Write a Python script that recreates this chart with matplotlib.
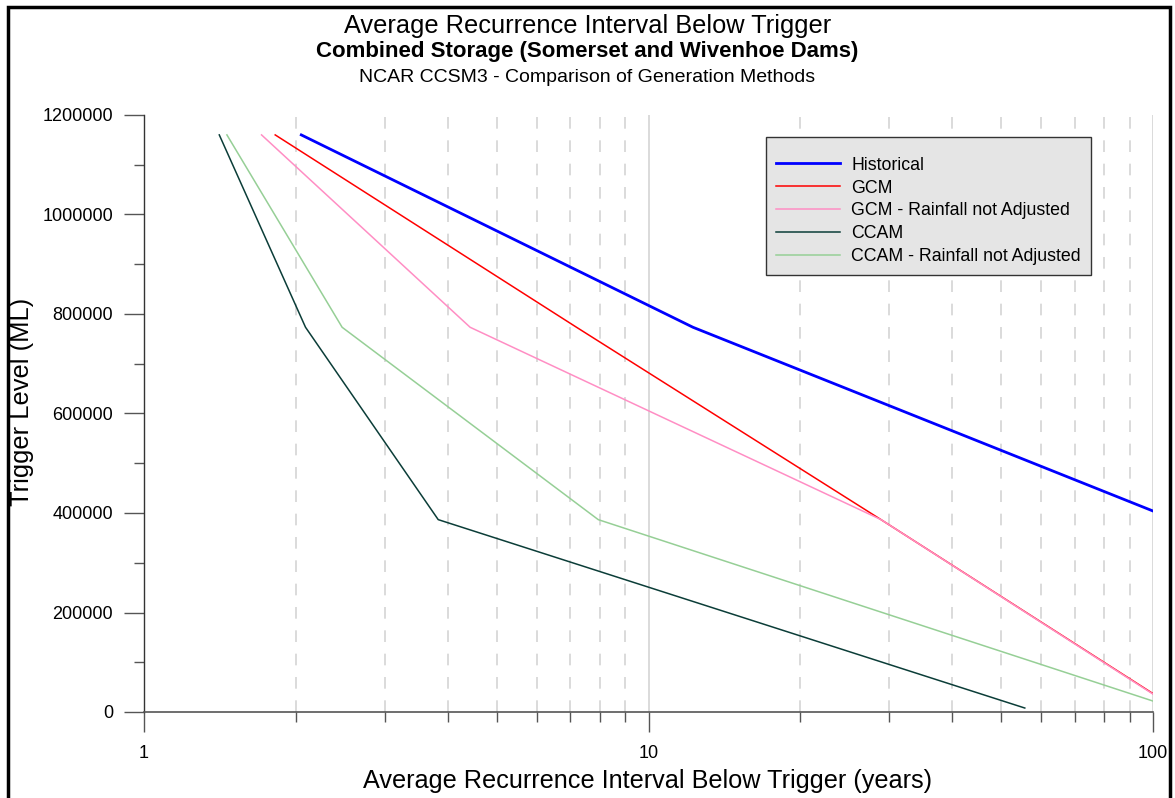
import matplotlib
matplotlib.use('Agg')
import matplotlib.pyplot as plt
import matplotlib.patches as patches
import matplotlib.ticker as ticker
import numpy as np

plt.rcParams['font.family'] = ['Liberation Sans', 'DejaVu Sans']

# trigger levels (ML)
levels = [1160000, 773333, 386667]

# average recurrence interval (years) per series
hist_x = [2.05, 12.25, 100]
hist_y = [1160000, 773333, 404000]

gcm_x = [1.82, 7.2, 28.9, 100]
gcm_y = [1160000, 773333, 386667, 37000]

gcm_raw_x = [1.71, 4.43, 28.9, 100]
gcm_raw_y = [1160000, 773333, 386667, 36000]

ccam_x = [1.41, 2.09, 3.83, 55.7]
ccam_y = [1160000, 773333, 386667, 8000]

ccam_raw_x = [1.46, 2.47, 7.95, 100]
ccam_raw_y = [1160000, 773333, 386667, 22000]

fig = plt.figure(figsize=(11.75, 7.98), dpi=100)
ax = fig.add_axes([144/1175, 1-712/798, (1153-144)/1175, (712-115)/798])

ax.set_xscale('log')
ax.set_xlim(1, 100)
ax.set_ylim(0, 1200000)

# vertical grid
for v in [2, 3, 4, 5, 6, 7, 8, 9, 20, 30, 40, 50, 60, 70, 80, 90]:
    ax.axvline(v, color='#d4d4d4', lw=1.2, ls=(0, (7, 7)), zorder=0)
for v in [10, 100]:
    ax.axvline(v, color='#d4d4d4', lw=1.2, zorder=0)

ax.plot(hist_x, hist_y, color='#0000ff', lw=2.0, label='Historical', zorder=5)
ax.plot(gcm_x, gcm_y, color='#ff0000', lw=1.1, label='GCM', zorder=3)
ax.plot(gcm_raw_x, gcm_raw_y, color='#ff8ec4', lw=1.1,
        label='GCM - Rainfall not Adjusted', zorder=4)
ax.plot(ccam_x, ccam_y, color='#0b3d38', lw=1.1, label='CCAM', zorder=3)
ax.plot(ccam_raw_x, ccam_raw_y, color='#96cf96', lw=1.1,
        label='CCAM - Rainfall not Adjusted', zorder=3)

for s in ['top', 'right']:
    ax.spines[s].set_visible(False)
ax.spines['left'].set_color('#333333')
ax.spines['bottom'].set_color('#555555')
ax.spines['left'].set_linewidth(1.0)
ax.spines['bottom'].set_linewidth(1.2)

ax.yaxis.set_major_locator(ticker.MultipleLocator(200000))
ax.yaxis.set_minor_locator(ticker.MultipleLocator(100000))
ax.yaxis.set_major_formatter(ticker.FuncFormatter(lambda v, p: '%d' % v))
ax.xaxis.set_major_formatter(ticker.FuncFormatter(lambda v, p: '%g' % v))
ax.xaxis.set_minor_formatter(ticker.NullFormatter())

ax.tick_params(axis='both', which='major', length=14.4, width=1.0,
               color='#555555', labelsize=13, direction='out')
ax.tick_params(axis='both', which='minor', length=7.2, width=1.0,
               color='#555555', direction='out')
ax.tick_params(axis='y', which='major', pad=8)
ax.tick_params(axis='x', which='major', pad=9)

fig.text(648/1175, 1-781/798, 'Average Recurrence Interval Below Trigger (years)',
         ha='center', va='center', fontsize=18.2)
fig.text(22/1175, 1-402/798, 'Trigger Level (ML)', rotation=90,
         ha='center', va='center', fontsize=18.4)

leg = ax.legend(loc='upper left', bbox_to_anchor=((766-144)/1009, (712-137)/597),
                fontsize=12.8, handlelength=3.6, labelspacing=0.33,
                fancybox=False, framealpha=1, borderpad=0.55,
                handletextpad=0.65, borderaxespad=0,
                title=' ', title_fontsize=2)
leg.get_frame().set_facecolor('#e5e5e5')
leg.get_frame().set_edgecolor('#333333')
leg.get_frame().set_linewidth(1.0)

fig.text(0.5, 1-26/798, 'Average Recurrence Interval Below Trigger',
         ha='center', va='center', fontsize=18.3)
fig.text(0.5, 1-52/798, 'Combined Storage (Somerset and Wivenhoe Dams)',
         ha='center', va='center', fontsize=16, fontweight='bold')
fig.text(0.5, 1-77/798, 'NCAR CCSM3 - Comparison of Generation Methods',
         ha='center', va='center', fontsize=14)

# outer frame
fig.add_artist(patches.Rectangle((8/1175, -0.05), (1170-8)/1175, 1.05-7/798,
                                 transform=fig.transFigure, fill=False,
                                 edgecolor='black', lw=2.5, clip_on=False))

fig.savefig('out.png', dpi=100)
